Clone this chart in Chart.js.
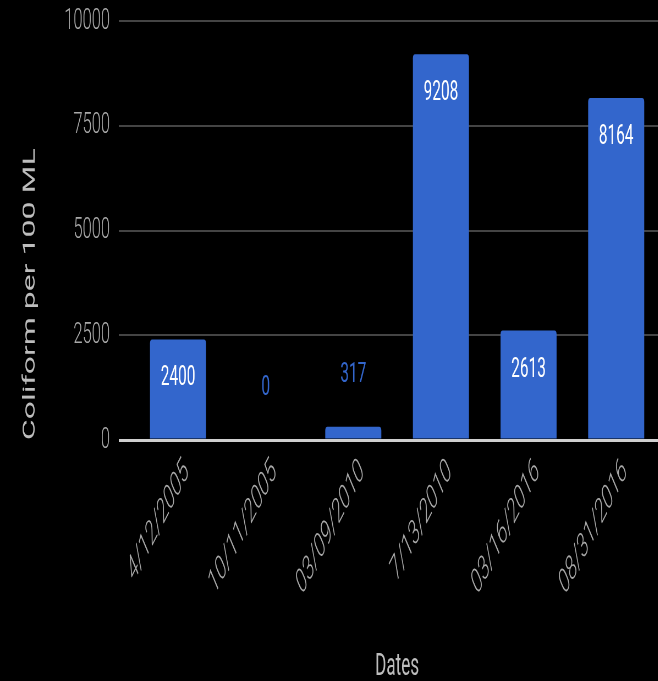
<!DOCTYPE html>
<html>
<head>
<meta charset="utf-8">
<script src="https://cdn.jsdelivr.net/npm/chart.js@4"></script>
<style>
  html, body { margin: 0; padding: 0; background: #000; overflow: hidden; }
  /* chart is drawn wide, then narrowed horizontally */
  #wrap { width: 1200px; height: 681px; transform: scaleX(0.55); transform-origin: 0 0; }
</style>
</head>
<body>
<div id="wrap"><canvas id="chartColiform" width="1200" height="681"></canvas></div>
<script>
const dateLabels = ['4/12/2005', '10/11/2005', '03/09/2010', '7/13/2010', '03/16/2016', '08/31/2016'];
const coliformCounts = [2400, 0, 317, 9208, 2613, 8164];
const yTicks = [0, 2500, 5000, 7500, 10000];

const BAR_BLUE = '#3366cc';

// value labels: inside the bar when it is tall enough, above it otherwise
const barValueLabels = {
  id: 'barValueLabels',
  afterDatasetsDraw(chart) {
    const ctx = chart.ctx;
    const meta = chart.getDatasetMeta(0);
    ctx.save();
    ctx.font = '28px Roboto';
    ctx.textAlign = 'center';
    ctx.textBaseline = 'middle';
    meta.data.forEach((bar, i) => {
      const h = bar.base - bar.y;
      const inside = h > 60;
      ctx.fillStyle = inside ? '#ffffff' : BAR_BLUE;
      ctx.fillText(String(coliformCounts[i]), bar.x, inside ? bar.y + 39 : bar.y - 52);
    });
    ctx.restore();
  }
};

new Chart(document.getElementById('chartColiform'), {
  type: 'bar',
  data: {
    labels: dateLabels,
    datasets: [{
      data: coliformCounts,
      backgroundColor: BAR_BLUE,
      borderRadius: { topLeft: 4, topRight: 4 },
      borderSkipped: 'bottom',
      barPercentage: 0.64,
      categoryPercentage: 1
    }]
  },
  options: {
    responsive: false,
    animation: false,
    layout: { padding: { top: 21, left: 0, right: 0, bottom: 0 } },
    plugins: { legend: { display: false }, tooltip: { enabled: false } },
    scales: {
      x: {
        afterFit(scale) {
          scale.height = 241;
          scale.paddingLeft = 0;
          scale.paddingRight = 0;
        },
        grid: { display: false, drawTicks: false },
        border: { display: false },
        ticks: {
          autoSkip: false,
          minRotation: 47,
          maxRotation: 47,
          padding: 13,
          labelOffset: 16,
          color: '#a8a8a8',
          font: { family: 'Roboto', size: 33, style: 'italic', weight: '300' }
        },
        title: {
          display: true,
          text: 'Dates',
          color: '#bdbdbd',
          font: { family: 'Roboto', size: 31 },
          padding: { top: 0, bottom: -5 }
        }
      },
      y: {
        min: 0,
        max: 10000,
        afterFit(scale) {
          scale.width = 244;
          scale.paddingTop = 0;
          scale.paddingBottom = 0;
        },
        afterBuildTicks(scale) { scale.ticks = yTicks.map(v => ({ value: v })); },
        border: { display: false },
        grid: {
          drawTicks: true,
          tickLength: 28,
          color: ctx => ctx.tick && ctx.tick.value === 0 ? '#cfcfcf' : '#444444',
          lineWidth: ctx => ctx.tick && ctx.tick.value === 0 ? 3 : 2
        },
        ticks: {
          padding: 16,
          color: '#a8a8a8',
          font: { family: 'Roboto', size: 30, weight: '300' },
          callback: v => String(v)
        },
        title: {
          display: true,
          text: 'Coliform per 100 ML',
          align: 'start',
          color: '#bdbdbd',
          font: { family: 'Roboto', size: 32, weight: '400' },
          padding: { top: 36, bottom: 0 }
        }
      }
    }
  },
  plugins: [barValueLabels]
});
</script>
</body>
</html>
